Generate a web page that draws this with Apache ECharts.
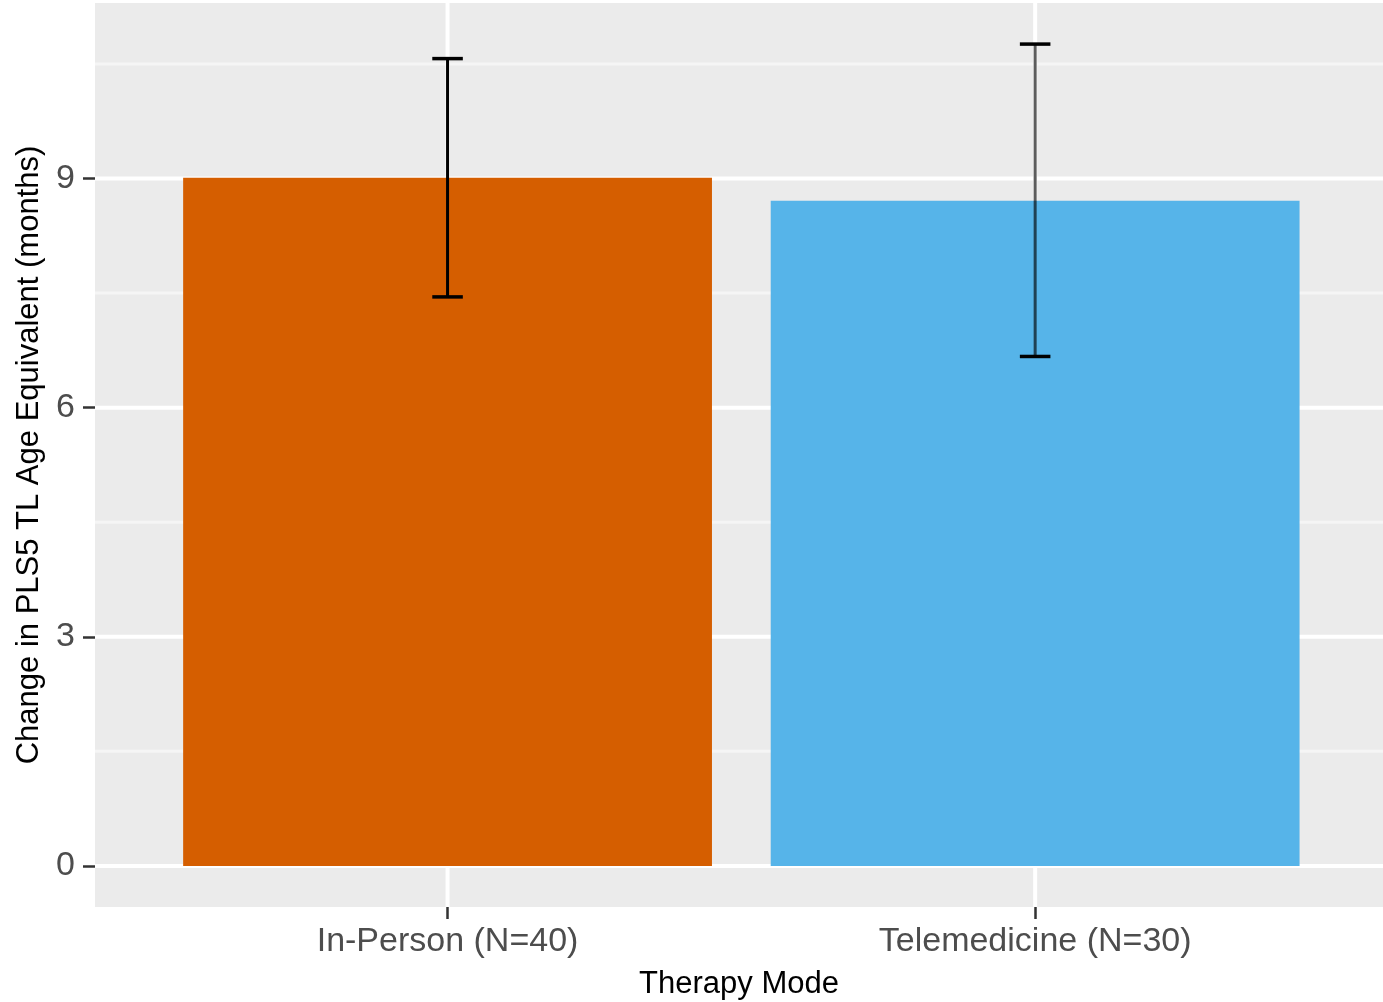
<!DOCTYPE html>
<html>
<head>
<meta charset="utf-8">
<script src="https://cdn.jsdelivr.net/npm/echarts@6/dist/echarts.min.js"></script>
<style>
  html, body { margin: 0; padding: 0; background: #ffffff; }
  #chart { width: 1383px; height: 1002px; }
</style>
</head>
<body>
<div id="chart"></div>
<script>
// Change in PLS-5 Total Language age equivalent by therapy mode (mean ± error)
const categories = ['In-Person (N=40)', 'Telemedicine (N=30)'];
const meanChange = [9.01, 8.71];
const lowerBound = [7.45, 6.67];
const upperBound = [10.57, 10.76];
const yBreaks = [0, 3, 6, 9];
const yMinorBreaks = [1.5, 4.5, 7.5, 10.5];
const xPositions = [1, 2];

// styling
const FONT = 'Liberation Sans, Arial, Helvetica, sans-serif';
const barColors = ['#D55E00', '#56B4E9'];
const stemOpacity = [1, 0.64];
const BAR_HALF = 0.45;
const CAP_HALF = 0.026;
const X_MIN = 0.4, X_MAX = 2.592;
const Y_MIN = -0.538, Y_MAX = 11.298;

const chart = echarts.init(document.getElementById('chart'), null, { renderer: 'canvas' });

function gridRender(params, api) {
  const children = [];
  const yLine = (v, w, c) => {
    const a = api.coord([X_MIN, v]);
    const b = api.coord([X_MAX, v]);
    children.push({ type: 'line', shape: { x1: a[0], y1: a[1], x2: b[0], y2: b[1] },
      style: { stroke: c, lineWidth: w } });
  };
  yMinorBreaks.forEach(v => yLine(v, 3, '#f5f5f5'));
  yBreaks.forEach(v => yLine(v, 4, '#ffffff'));
  xPositions.forEach(x => {
    const a = api.coord([x, Y_MIN]);
    const b = api.coord([x, Y_MAX]);
    children.push({ type: 'line', shape: { x1: a[0], y1: a[1], x2: b[0], y2: b[1] },
      style: { stroke: '#ffffff', lineWidth: 4 } });
  });
  return { type: 'group', children };
}

function barRender(params, api) {
  const x = api.value(0), v = api.value(1);
  const p0 = api.coord([x - BAR_HALF, v]);
  const p1 = api.coord([x + BAR_HALF, 0]);
  return {
    type: 'rect',
    shape: { x: p0[0], y: p0[1], width: p1[0] - p0[0], height: p1[1] - p0[1] },
    style: { fill: barColors[params.dataIndex] }
  };
}

function errRender(params, api) {
  const x = api.value(0), lo = api.value(1), hi = api.value(2);
  const top = api.coord([x, hi]);
  const bot = api.coord([x, lo]);
  const tl = api.coord([x - CAP_HALF, hi]), tr = api.coord([x + CAP_HALF, hi]);
  const bl = api.coord([x - CAP_HALF, lo]), br = api.coord([x + CAP_HALF, lo]);
  return {
    type: 'group',
    children: [
      { type: 'line', shape: { x1: top[0], y1: top[1], x2: bot[0], y2: bot[1] },
        style: { stroke: '#000000', lineWidth: 3, opacity: stemOpacity[params.dataIndex] } },
      { type: 'line', shape: { x1: tl[0], y1: tl[1], x2: tr[0], y2: tr[1] },
        style: { stroke: '#000000', lineWidth: 3.5 } },
      { type: 'line', shape: { x1: bl[0], y1: bl[1], x2: br[0], y2: br[1] },
        style: { stroke: '#000000', lineWidth: 3.5 } }
    ]
  };
}

const option = {
  animation: false,
  backgroundColor: '#ffffff',
  grid: {
    left: 95, right: 0, top: 3, bottom: 95,
    outerBoundsMode: 'none',
    containLabel: false,
    show: true, backgroundColor: '#EBEBEB', borderWidth: 0
  },
  xAxis: {
    type: 'value',
    position: 'bottom',
    min: X_MIN, max: X_MAX,
    name: 'Therapy Mode',
    nameLocation: 'middle',
    nameGap: 62,
    nameTextStyle: { fontSize: 31, color: '#000000', fontFamily: FONT },
    axisLine: { show: false, onZero: false },
    splitLine: { show: false },
    axisTick: { show: true, customValues: xPositions, length: 12,
      lineStyle: { color: '#333333', width: 2.5 } },
    axisLabel: {
      customValues: xPositions,
      margin: 18,
      fontSize: 34, color: '#4d4d4d', fontFamily: FONT,
      formatter: v => categories[xPositions.indexOf(Math.round(v))] || ''
    }
  },
  yAxis: {
    type: 'value',
    min: Y_MIN, max: Y_MAX,
    name: 'Change in PLS5 TL Age Equivalent (months)',
    nameLocation: 'middle',
    nameGap: 46,
    nameTextStyle: { fontSize: 31, color: '#000000', fontFamily: FONT },
    axisLine: { show: false, onZero: false },
    splitLine: { show: false },
    axisTick: { show: true, customValues: yBreaks, length: 12,
      lineStyle: { color: '#333333', width: 2.5 } },
    axisLabel: {
      customValues: yBreaks,
      margin: 20,
      fontSize: 34, color: '#4d4d4d', fontFamily: FONT,
      formatter: v => String(Math.round(v))
    }
  },
  series: [
    {
      type: 'custom', name: 'grid', silent: true, z: 1,
      renderItem: gridRender,
      data: [[1, 0]]
    },
    {
      type: 'custom', name: 'mean', z: 2,
      renderItem: barRender,
      encode: { x: 0, y: 1 },
      data: categories.map((c, i) => [xPositions[i], meanChange[i]])
    },
    {
      type: 'custom', name: 'error', z: 3,
      renderItem: errRender,
      encode: { x: 0, y: [1, 2] },
      data: categories.map((c, i) => [xPositions[i], lowerBound[i], upperBound[i]])
    }
  ]
};

chart.setOption(option);
</script>
</body>
</html>
